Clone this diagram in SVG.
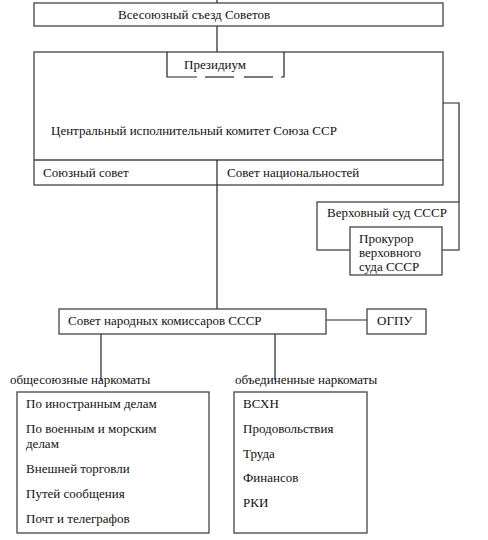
<svg xmlns="http://www.w3.org/2000/svg" width="488" height="540" viewBox="0 0 488 540" font-family="Liberation Serif, serif" font-size="13">
<style>
.b{fill:#fff;stroke:#444;stroke-width:1.3}
.l{fill:none;stroke:#222;stroke-width:1.2}
text{fill:#111}
</style>
<rect width="488" height="540" fill="#fff"/>
<g id="connectors">
<line class="l" x1="217" y1="0" x2="217" y2="3"/>
<line class="l" x1="217" y1="26" x2="217" y2="52"/>
<line class="l" x1="217" y1="185" x2="217" y2="309"/>
<polyline class="l" points="443,103 459,103 459,202"/>
<line class="l" x1="326" y1="320" x2="367" y2="320"/>
<line class="l" x1="101" y1="334" x2="101" y2="381"/>
<line class="l" x1="275" y1="334" x2="275" y2="380"/>
</g>
<g id="congress">
<rect class="b" x="34" y="3" width="409" height="23"/>
<text x="118" y="19">Всесоюзный съезд Советов</text>
</g>
<g id="cik">
<rect class="b" x="34" y="52" width="409" height="133"/>
<line x1="34" y1="160" x2="443" y2="160" stroke="#444" stroke-width="1.3"/>
<line class="l" x1="217" y1="160" x2="217" y2="185"/>
<text x="51" y="135">Центральный исполнительный комитет Союза ССР</text>
<text x="43" y="177">Союзный совет</text>
<text x="227" y="177">Совет национальностей</text>
</g>
<g id="presidium">
<polyline class="l" points="167,52 167,77 197,77"/>
<line class="l" x1="205" y1="77" x2="234" y2="77"/>
<line class="l" x1="244" y1="77" x2="273" y2="77"/>
<polyline class="l" points="281,77 284,77 284,52"/>
<text x="184" y="69">Президиум</text>
</g>
<g id="supreme-court">
<rect class="b" x="317" y="202" width="142" height="48"/>
<text x="327" y="217">Верховный суд СССР</text>
</g>
<g id="prosecutor">
<rect class="b" x="350" y="227" width="92" height="48"/>
<text x="359" y="243">Прокурор</text>
<text x="359" y="257">верховного</text>
<text x="359" y="271">суда СССР</text>
</g>
<g id="sovnarkom">
<rect class="b" x="59" y="309" width="267" height="25"/>
<text x="68" y="325">Совет народных комиссаров СССР</text>
</g>
<g id="ogpu">
<rect class="b" x="367" y="309" width="59" height="25"/>
<text x="377" y="325">ОГПУ</text>
</g>
<g id="allunion">
<text x="10" y="384">общесоюзные наркоматы</text>
<rect class="b" x="17" y="392" width="192" height="141"/>
<text x="26" y="408">По иностранным делам</text>
<text x="26" y="433">По военным и морским</text>
<text x="26" y="448">делам</text>
<text x="26" y="473">Внешней торговли</text>
<text x="26" y="498">Путей сообщения</text>
<text x="26" y="523">Почт и телеграфов</text>
</g>
<g id="united">
<text x="235" y="384">объединенные наркоматы</text>
<rect class="b" x="234" y="392" width="133" height="141"/>
<text x="243" y="408">ВСХН</text>
<text x="243" y="433">Продовольствия</text>
<text x="243" y="458">Труда</text>
<text x="243" y="482">Финансов</text>
<text x="243" y="507">РКИ</text>
</g>
</svg>
